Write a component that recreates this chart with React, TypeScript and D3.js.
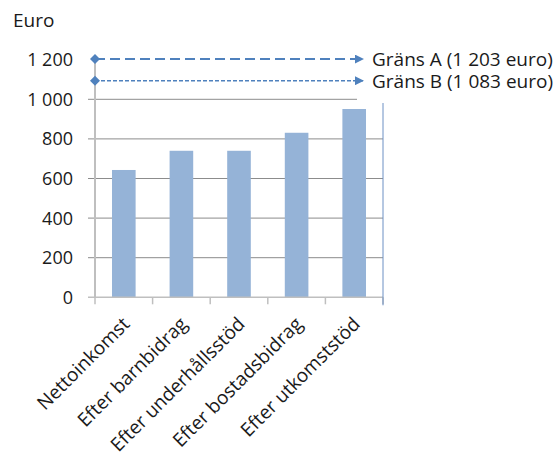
import React, { useEffect, useRef } from 'react';
import * as d3 from 'd3';

const categories = ['Nettoinkomst', 'Efter barnbidrag', 'Efter underhållsstöd', 'Efter bostadsbidrag', 'Efter utkomststöd'];
const incomeValues = [643, 740, 740, 831, 951];
const yTicks = [0, 200, 400, 600, 800, 1000, 1200];
const limitValues = [1203, 1094];
const limitLabels = ['Gräns A (1 203 euro)', 'Gräns B (1 083 euro)'];
const limitDashes = ['10,5', '4,2'];
const limitWidths = [2, 1.5];

const FONT = '"Open Sans", sans-serif';
const TEXT = '#1a1a1a';
const BLUE = '#4f81bd';

const fmt = (v: number) => d3.format(',')(v).replace(/,/g, ' ');

const App: React.FC = () => {
    const svgRef = useRef<SVGSVGElement>(null);

    useEffect(() => {
        document.body.style.margin = '0';
        if (!svgRef.current) return;
        const svg = d3.select(svgRef.current);
        svg.selectAll('*').remove();

        const left = 95, right = 383, bottom = 297.3;
        const y = d3.scaleLinear().domain([0, 1200]).range([bottom, 59.7]);
        const x = d3.scaleBand<string>().domain(categories).range([left, right]).paddingInner(0.59).paddingOuter(0.295);

        const defs = svg.append('defs');
        defs.append('marker')
            .attr('id', 'arrow')
            .attr('viewBox', '0 0 10 10')
            .attr('refX', 10)
            .attr('refY', 5)
            .attr('markerWidth', 9)
            .attr('markerHeight', 9)
            .attr('markerUnits', 'userSpaceOnUse')
            .attr('orient', 'auto')
            .append('path')
            .attr('d', 'M0,0 L10,5 L0,10 Z')
            .attr('fill', BLUE);

        // "Euro" unit title
        svg.append('text')
            .attr('x', 13)
            .attr('y', 27)
            .style('font-family', FONT)
            .style('font-size', '19px')
            .style('fill', TEXT)
            .text('Euro');

        // gridlines
        svg.append('g')
            .selectAll('line')
            .data(yTicks.filter((t) => t > 0 && t < 1200))
            .enter()
            .append('line')
            .attr('x1', left - 7)
            .attr('x2', (d) => (d === 1000 ? 357 : right))
            .attr('y1', (d) => y(d))
            .attr('y2', (d) => y(d))
            .attr('stroke', '#8c8c8c')
            .attr('stroke-width', 1);

        // y tick labels
        svg.append('g')
            .selectAll('text')
            .data(yTicks)
            .enter()
            .append('text')
            .attr('x', 73)
            .attr('y', (d) => y(d))
            .attr('dy', '0.36em')
            .attr('text-anchor', 'end')
            .style('font-family', FONT)
            .style('font-size', '18px')
            .style('fill', TEXT)
            .text((d) => fmt(d));

        // bars
        svg.append('g')
            .selectAll('rect')
            .data(incomeValues)
            .enter()
            .append('rect')
            .attr('x', (_d, i) => x(categories[i]) as number)
            .attr('y', (d) => y(d))
            .attr('width', x.bandwidth())
            .attr('height', (d) => bottom - y(d))
            .attr('fill', '#95b3d7');

        // axes
        svg.append('line')
            .attr('x1', left).attr('x2', left)
            .attr('y1', y(1200) - 4).attr('y2', bottom)
            .attr('stroke', '#bfbfbf').attr('stroke-width', 2);
        svg.append('line')
            .attr('x1', left - 7).attr('x2', right)
            .attr('y1', bottom).attr('y2', bottom)
            .attr('stroke', '#bfbfbf').attr('stroke-width', 1.5);
        svg.append('g')
            .selectAll('line')
            .data(d3.range(categories.length + 1))
            .enter()
            .append('line')
            .attr('x1', (i) => left + i * x.step())
            .attr('x2', (i) => left + i * x.step())
            .attr('y1', bottom)
            .attr('y2', bottom + 7)
            .attr('stroke', '#bfbfbf')
            .attr('stroke-width', 1.5);
        svg.append('line')
            .attr('x1', right).attr('x2', right)
            .attr('y1', 103).attr('y2', bottom + 8)
            .attr('stroke', '#6d90c4').attr('stroke-width', 1);

        // category labels
        svg.append('g')
            .selectAll('text')
            .data(categories)
            .enter()
            .append('text')
            .attr('text-anchor', 'end')
            .attr('transform', (d) => `translate(${(x(d) as number) + x.bandwidth() / 2 + 7},${bottom + 28}) rotate(-45)`)
            .style('font-family', FONT)
            .style('font-size', '19px')
            .style('fill', TEXT)
            .text((d) => d);

        // limit lines
        const limits = svg.append('g');
        limitValues.forEach((v, i) => {
            limits.append('line')
                .attr('x1', left)
                .attr('x2', 364)
                .attr('y1', y(v))
                .attr('y2', y(v))
                .attr('stroke', BLUE)
                .attr('stroke-width', limitWidths[i])
                .attr('stroke-dasharray', limitDashes[i])
                .attr('marker-end', 'url(#arrow)');
            limits.append('path')
                .attr('d', 'M0,-5 L5,0 L0,5 L-5,0 Z')
                .attr('transform', `translate(${left},${y(v)})`)
                .attr('fill', BLUE);
            limits.append('text')
                .attr('x', 372)
                .attr('y', y(v))
                .attr('dy', '0.36em')
                .style('font-family', FONT)
                .style('font-size', '19px')
                .style('fill', TEXT)
                .text(limitLabels[i]);
        });
    }, []);

    return <svg ref={svgRef} width={556} height={452} style={{ display: 'block', background: '#fff' }} />;
};

export default App;
